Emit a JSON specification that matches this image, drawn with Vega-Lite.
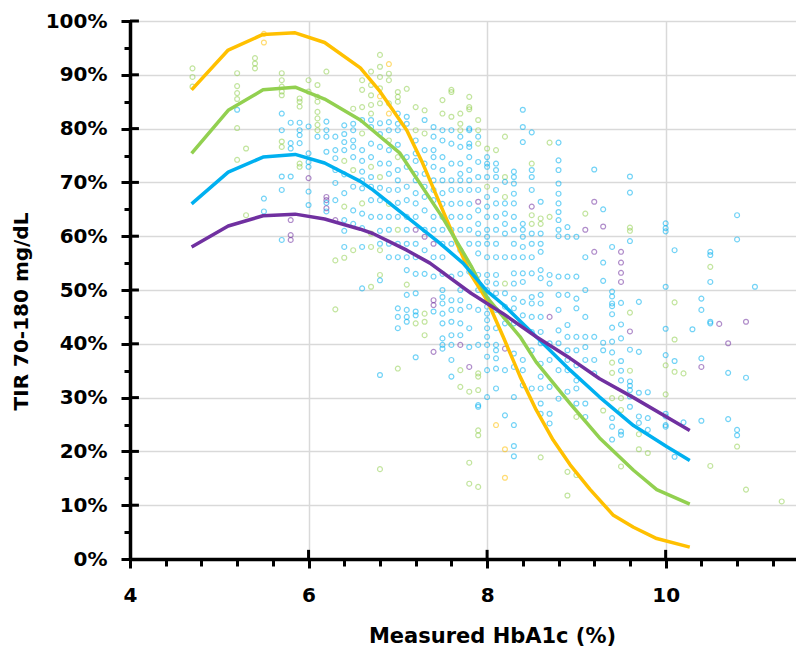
{
"$schema": "https://vega.github.io/schema/vega-lite/v6.json",
"width": 666, "height": 538,
"autosize": {"type": "none"},
"padding": {"left": 130, "top": 21, "right": 0, "bottom": 91},
"background": "white",
"config": {"view": {"stroke": null}, "font": "DejaVu Sans"},
"datasets": {
"pts": [
{"x":4.7,"y":91.2,"c":"g"},{"x":4.7,"y":89.6,"c":"g"},{"x":4.7,"y":87.8,"c":"g"},
{"x":5.2,"y":90.3,"c":"g"},{"x":5.2,"y":87.9,"c":"g"},{"x":5.2,"y":86.6,"c":"g"},{"x":5.2,"y":85.5,"c":"g"},{"x":5.2,"y":83.5,"c":"b"},{"x":5.2,"y":80.1,"c":"g"},{"x":5.2,"y":74.2,"c":"g"},
{"x":5.3,"y":76.3,"c":"g"},{"x":5.3,"y":63.9,"c":"g"},
{"x":5.4,"y":93.1,"c":"g"},{"x":5.4,"y":92.1,"c":"g"},{"x":5.4,"y":91.2,"c":"g"},
{"x":5.5,"y":97.6,"c":"y"},{"x":5.5,"y":96.0,"c":"y"},{"x":5.5,"y":67.0,"c":"b"},{"x":5.5,"y":64.6,"c":"b"},
{"x":5.7,"y":90.3,"c":"g"},{"x":5.7,"y":89.0,"c":"g"},{"x":5.7,"y":87.8,"c":"g"},{"x":5.7,"y":86.9,"c":"g"},{"x":5.7,"y":86.2,"c":"g"},{"x":5.7,"y":82.8,"c":"b"},{"x":5.7,"y":79.7,"c":"b"},{"x":5.7,"y":77.6,"c":"g"},{"x":5.7,"y":76.6,"c":"g"},{"x":5.7,"y":71.1,"c":"b"},{"x":5.7,"y":68.6,"c":"b"},{"x":5.7,"y":59.3,"c":"b"},
{"x":5.8,"y":81.1,"c":"b"},{"x":5.8,"y":77.3,"c":"b"},{"x":5.8,"y":76.3,"c":"b"},{"x":5.8,"y":71.1,"c":"b"},{"x":5.8,"y":63.0,"c":"p"},{"x":5.8,"y":60.2,"c":"p"},{"x":5.8,"y":59.3,"c":"p"},
{"x":5.9,"y":85.6,"c":"g"},{"x":5.9,"y":85.0,"c":"g"},{"x":5.9,"y":84.1,"c":"g"},{"x":5.9,"y":81.1,"c":"b"},{"x":5.9,"y":79.7,"c":"b"},{"x":5.9,"y":78.8,"c":"b"},{"x":5.9,"y":77.3,"c":"b"},{"x":5.9,"y":73.5,"c":"g"},{"x":5.9,"y":72.9,"c":"g"},
{"x":6.0,"y":89.0,"c":"g"},{"x":6.0,"y":86.9,"c":"g"},{"x":6.0,"y":80.4,"c":"b"},{"x":6.0,"y":75.4,"c":"b"},{"x":6.0,"y":73.8,"c":"b"},{"x":6.0,"y":72.9,"c":"b"},{"x":6.0,"y":70.8,"c":"p"},{"x":6.0,"y":68.3,"c":"b"},{"x":6.0,"y":65.8,"c":"b"},
{"x":6.1,"y":88.1,"c":"g"},{"x":6.1,"y":85.9,"c":"g"},{"x":6.1,"y":85.0,"c":"g"},{"x":6.1,"y":83.1,"c":"g"},{"x":6.1,"y":81.9,"c":"g"},{"x":6.1,"y":80.7,"c":"g"},{"x":6.1,"y":79.7,"c":"g"},{"x":6.1,"y":78.5,"c":"b"},
{"x":6.2,"y":90.6,"c":"g"},{"x":6.2,"y":81.3,"c":"b"},{"x":6.2,"y":79.7,"c":"b"},{"x":6.2,"y":78.5,"c":"b"},{"x":6.2,"y":75.7,"c":"b"},{"x":6.2,"y":67.3,"c":"p"},{"x":6.2,"y":66.7,"c":"p"},{"x":6.2,"y":66.2,"c":"b"},{"x":6.2,"y":65.2,"c":"p"},{"x":6.2,"y":64.6,"c":"b"},
{"x":6.3,"y":78.5,"c":"b"},{"x":6.3,"y":76.0,"c":"b"},{"x":6.3,"y":74.5,"c":"b"},{"x":6.3,"y":72.3,"c":"b"},{"x":6.3,"y":69.9,"c":"b"},{"x":6.3,"y":66.7,"c":"b"},{"x":6.3,"y":63.0,"c":"p"},{"x":6.3,"y":55.5,"c":"g"},{"x":6.3,"y":46.4,"c":"g"},
{"x":6.4,"y":80.6,"c":"b"},{"x":6.4,"y":79.0,"c":"b"},{"x":6.4,"y":77.5,"c":"b"},{"x":6.4,"y":76.0,"c":"b"},{"x":6.4,"y":74.0,"c":"g"},{"x":6.4,"y":71.5,"c":"b"},{"x":6.4,"y":68.0,"c":"b"},{"x":6.4,"y":65.5,"c":"g"},{"x":6.4,"y":63.0,"c":"b"},{"x":6.4,"y":61.0,"c":"b"},{"x":6.4,"y":58.0,"c":"b"},{"x":6.4,"y":56.0,"c":"g"},
{"x":6.5,"y":83.7,"c":"g"},{"x":6.5,"y":80.9,"c":"b"},{"x":6.5,"y":79.7,"c":"b"},{"x":6.5,"y":77.8,"c":"b"},{"x":6.5,"y":76.6,"c":"b"},{"x":6.5,"y":74.7,"c":"b"},{"x":6.5,"y":72.3,"c":"g"},{"x":6.5,"y":69.2,"c":"b"},{"x":6.5,"y":64.8,"c":"b"},{"x":6.5,"y":62.3,"c":"b"},{"x":6.5,"y":57.4,"c":"g"},
{"x":6.6,"y":89.0,"c":"g"},{"x":6.6,"y":87.2,"c":"g"},{"x":6.6,"y":84.0,"c":"g"},{"x":6.6,"y":81.6,"c":"b"},{"x":6.6,"y":79.1,"c":"g"},{"x":6.6,"y":76.0,"c":"b"},{"x":6.6,"y":74.0,"c":"b"},{"x":6.6,"y":72.0,"c":"b"},{"x":6.6,"y":70.4,"c":"b"},{"x":6.6,"y":68.9,"c":"b"},{"x":6.6,"y":66.1,"c":"g"},{"x":6.6,"y":64.2,"c":"b"},{"x":6.6,"y":61.5,"c":"b"},{"x":6.6,"y":58.0,"c":"b"},{"x":6.6,"y":50.3,"c":"b"},
{"x":6.7,"y":90.6,"c":"g"},{"x":6.7,"y":88.1,"c":"g"},{"x":6.7,"y":86.2,"c":"g"},{"x":6.7,"y":84.4,"c":"g"},{"x":6.7,"y":82.8,"c":"g"},{"x":6.7,"y":81.6,"c":"b"},{"x":6.7,"y":80.3,"c":"b"},{"x":6.7,"y":77.2,"c":"b"},{"x":6.7,"y":74.7,"c":"b"},{"x":6.7,"y":72.9,"c":"g"},{"x":6.7,"y":71.0,"c":"b"},{"x":6.7,"y":69.2,"c":"b"},{"x":6.7,"y":66.7,"c":"b"},{"x":6.7,"y":63.6,"c":"b"},{"x":6.7,"y":60.5,"c":"g"},{"x":6.7,"y":58.0,"c":"g"},{"x":6.7,"y":50.6,"c":"g"},
{"x":6.8,"y":93.7,"c":"g"},{"x":6.8,"y":91.5,"c":"g"},{"x":6.8,"y":89.6,"c":"g"},{"x":6.8,"y":87.5,"c":"g"},{"x":6.8,"y":86.0,"c":"y"},{"x":6.8,"y":84.7,"c":"g"},{"x":6.8,"y":81.0,"c":"b"},{"x":6.8,"y":79.0,"c":"b"},{"x":6.8,"y":76.6,"c":"b"},{"x":6.8,"y":73.5,"c":"b"},{"x":6.8,"y":71.0,"c":"g"},{"x":6.8,"y":69.0,"c":"b"},{"x":6.8,"y":66.7,"c":"b"},{"x":6.8,"y":63.6,"c":"b"},{"x":6.8,"y":61.0,"c":"b"},{"x":6.8,"y":58.6,"c":"b"},{"x":6.8,"y":57.4,"c":"g"},{"x":6.8,"y":52.8,"c":"g"},{"x":6.8,"y":51.8,"c":"b"},{"x":6.8,"y":34.2,"c":"b"},{"x":6.8,"y":16.7,"c":"g"},
{"x":6.9,"y":92.0,"c":"y"},{"x":6.9,"y":90.2,"c":"g"},{"x":6.9,"y":89.0,"c":"g"},{"x":6.9,"y":84.7,"c":"g"},{"x":6.9,"y":82.8,"c":"y"},{"x":6.9,"y":81.2,"c":"b"},{"x":6.9,"y":79.7,"c":"b"},{"x":6.9,"y":77.8,"c":"g"},{"x":6.9,"y":76.0,"c":"b"},{"x":6.9,"y":73.5,"c":"b"},{"x":6.9,"y":71.6,"c":"b"},{"x":6.9,"y":68.6,"c":"b"},{"x":6.9,"y":66.0,"c":"g"},{"x":6.9,"y":63.6,"c":"b"},{"x":6.9,"y":61.2,"c":"b"},{"x":6.9,"y":58.6,"c":"b"},{"x":6.9,"y":56.1,"c":"b"},
{"x":7.0,"y":86.8,"c":"g"},{"x":7.0,"y":85.9,"c":"g"},{"x":7.0,"y":85.0,"c":"g"},{"x":7.0,"y":82.8,"c":"b"},{"x":7.0,"y":80.9,"c":"b"},{"x":7.0,"y":79.7,"c":"b"},{"x":7.0,"y":77.0,"c":"b"},{"x":7.0,"y":74.7,"c":"g"},{"x":7.0,"y":72.3,"c":"b"},{"x":7.0,"y":70.4,"c":"b"},{"x":7.0,"y":68.6,"c":"b"},{"x":7.0,"y":66.2,"c":"b"},{"x":7.0,"y":63.6,"c":"b"},{"x":7.0,"y":61.2,"c":"g"},{"x":7.0,"y":58.6,"c":"b"},{"x":7.0,"y":56.1,"c":"b"},{"x":7.0,"y":46.6,"c":"b"},{"x":7.0,"y":45.0,"c":"b"},{"x":7.0,"y":42.9,"c":"b"},{"x":7.0,"y":35.4,"c":"g"},
{"x":7.1,"y":87.4,"c":"g"},{"x":7.1,"y":82.2,"c":"b"},{"x":7.1,"y":80.9,"c":"b"},{"x":7.1,"y":74.7,"c":"b"},{"x":7.1,"y":72.9,"c":"b"},{"x":7.1,"y":69.2,"c":"b"},{"x":7.1,"y":66.7,"c":"b"},{"x":7.1,"y":63.6,"c":"b"},{"x":7.1,"y":61.2,"c":"b"},{"x":7.1,"y":58.6,"c":"b"},{"x":7.1,"y":56.1,"c":"b"},{"x":7.1,"y":53.7,"c":"b"},{"x":7.1,"y":51.0,"c":"g"},{"x":7.1,"y":49.1,"c":"b"},{"x":7.1,"y":46.3,"c":"b"},{"x":7.1,"y":45.0,"c":"b"},{"x":7.1,"y":44.1,"c":"b"},
{"x":7.2,"y":84.0,"c":"g"},{"x":7.2,"y":79.7,"c":"g"},{"x":7.2,"y":77.8,"c":"b"},{"x":7.2,"y":75.4,"c":"b"},{"x":7.2,"y":74.0,"c":"b"},{"x":7.2,"y":71.6,"c":"b"},{"x":7.2,"y":70.4,"c":"b"},{"x":7.2,"y":68.0,"c":"b"},{"x":7.2,"y":66.1,"c":"b"},{"x":7.2,"y":63.6,"c":"b"},{"x":7.2,"y":61.2,"c":"p"},{"x":7.2,"y":58.6,"c":"b"},{"x":7.2,"y":56.1,"c":"b"},{"x":7.2,"y":53.0,"c":"b"},{"x":7.2,"y":49.4,"c":"b"},{"x":7.2,"y":46.0,"c":"b"},{"x":7.2,"y":45.3,"c":"b"},{"x":7.2,"y":43.8,"c":"g"},{"x":7.2,"y":37.5,"c":"b"},
{"x":7.3,"y":83.4,"c":"g"},{"x":7.3,"y":81.6,"c":"b"},{"x":7.3,"y":79.1,"c":"g"},{"x":7.3,"y":76.0,"c":"b"},{"x":7.3,"y":73.5,"c":"b"},{"x":7.3,"y":71.6,"c":"b"},{"x":7.3,"y":69.2,"c":"b"},{"x":7.3,"y":67.3,"c":"b"},{"x":7.3,"y":64.8,"c":"b"},{"x":7.3,"y":61.2,"c":"b"},{"x":7.3,"y":59.9,"c":"p"},{"x":7.3,"y":57.4,"c":"b"},{"x":7.3,"y":53.0,"c":"b"},{"x":7.3,"y":45.6,"c":"g"},{"x":7.3,"y":44.1,"c":"g"},{"x":7.3,"y":41.6,"c":"g"},
{"x":7.4,"y":80.3,"c":"b"},{"x":7.4,"y":78.5,"c":"b"},{"x":7.4,"y":76.0,"c":"b"},{"x":7.4,"y":74.7,"c":"b"},{"x":7.4,"y":72.9,"c":"b"},{"x":7.4,"y":70.4,"c":"b"},{"x":7.4,"y":68.6,"c":"b"},{"x":7.4,"y":66.7,"c":"b"},{"x":7.4,"y":63.6,"c":"b"},{"x":7.4,"y":61.2,"c":"b"},{"x":7.4,"y":58.6,"c":"p"},{"x":7.4,"y":56.1,"c":"b"},{"x":7.4,"y":52.5,"c":"b"},{"x":7.4,"y":48.1,"c":"p"},{"x":7.4,"y":47.2,"c":"p"},{"x":7.4,"y":46.0,"c":"b"},{"x":7.4,"y":38.5,"c":"p"},
{"x":7.5,"y":85.3,"c":"g"},{"x":7.5,"y":82.8,"c":"g"},{"x":7.5,"y":79.7,"c":"b"},{"x":7.5,"y":77.8,"c":"b"},{"x":7.5,"y":74.7,"c":"b"},{"x":7.5,"y":72.3,"c":"b"},{"x":7.5,"y":70.4,"c":"b"},{"x":7.5,"y":68.0,"c":"b"},{"x":7.5,"y":66.0,"c":"b"},{"x":7.5,"y":63.6,"c":"b"},{"x":7.5,"y":61.2,"c":"b"},{"x":7.5,"y":58.6,"c":"b"},{"x":7.5,"y":56.1,"c":"b"},{"x":7.5,"y":53.0,"c":"b"},{"x":7.5,"y":50.0,"c":"b"},{"x":7.5,"y":48.7,"c":"b"},{"x":7.5,"y":47.5,"c":"b"},{"x":7.5,"y":45.6,"c":"b"},{"x":7.5,"y":43.8,"c":"b"},{"x":7.5,"y":41.0,"c":"b"},{"x":7.5,"y":39.8,"c":"b"},{"x":7.5,"y":39.1,"c":"b"},
{"x":7.6,"y":87.2,"c":"g"},{"x":7.6,"y":86.8,"c":"g"},{"x":7.6,"y":82.2,"c":"g"},{"x":7.6,"y":79.7,"c":"b"},{"x":7.6,"y":77.2,"c":"b"},{"x":7.6,"y":73.5,"c":"b"},{"x":7.6,"y":70.4,"c":"b"},{"x":7.6,"y":68.6,"c":"b"},{"x":7.6,"y":66.0,"c":"b"},{"x":7.6,"y":63.6,"c":"b"},{"x":7.6,"y":61.2,"c":"b"},{"x":7.6,"y":58.6,"c":"b"},{"x":7.6,"y":52.5,"c":"b"},{"x":7.6,"y":48.1,"c":"b"},{"x":7.6,"y":46.3,"c":"b"},{"x":7.6,"y":44.1,"c":"b"},{"x":7.6,"y":41.6,"c":"b"},{"x":7.6,"y":39.8,"c":"b"},{"x":7.6,"y":37.0,"c":"b"},{"x":7.6,"y":33.9,"c":"b"},
{"x":7.7,"y":82.8,"c":"g"},{"x":7.7,"y":80.9,"c":"g"},{"x":7.7,"y":79.7,"c":"g"},{"x":7.7,"y":78.5,"c":"b"},{"x":7.7,"y":76.6,"c":"b"},{"x":7.7,"y":73.5,"c":"b"},{"x":7.7,"y":71.6,"c":"b"},{"x":7.7,"y":70.4,"c":"b"},{"x":7.7,"y":68.6,"c":"b"},{"x":7.7,"y":66.1,"c":"b"},{"x":7.7,"y":63.6,"c":"b"},{"x":7.7,"y":61.2,"c":"b"},{"x":7.7,"y":57.4,"c":"b"},{"x":7.7,"y":53.0,"c":"b"},{"x":7.7,"y":50.0,"c":"b"},{"x":7.7,"y":48.1,"c":"b"},{"x":7.7,"y":46.3,"c":"b"},{"x":7.7,"y":43.8,"c":"b"},{"x":7.7,"y":41.6,"c":"b"},{"x":7.7,"y":39.8,"c":"p"},{"x":7.7,"y":35.1,"c":"g"},{"x":7.7,"y":32.0,"c":"g"},
{"x":7.8,"y":85.9,"c":"g"},{"x":7.8,"y":84.0,"c":"g"},{"x":7.8,"y":83.6,"c":"g"},{"x":7.8,"y":80.0,"c":"b"},{"x":7.8,"y":79.7,"c":"b"},{"x":7.8,"y":77.2,"c":"b"},{"x":7.8,"y":76.6,"c":"b"},{"x":7.8,"y":74.7,"c":"b"},{"x":7.8,"y":72.3,"c":"b"},{"x":7.8,"y":70.4,"c":"b"},{"x":7.8,"y":68.6,"c":"b"},{"x":7.8,"y":66.0,"c":"b"},{"x":7.8,"y":63.6,"c":"b"},{"x":7.8,"y":61.2,"c":"b"},{"x":7.8,"y":58.6,"c":"b"},{"x":7.8,"y":53.4,"c":"b"},{"x":7.8,"y":46.9,"c":"b"},{"x":7.8,"y":42.9,"c":"b"},{"x":7.8,"y":39.4,"c":"b"},{"x":7.8,"y":35.7,"c":"p"},{"x":7.8,"y":31.1,"c":"g"},{"x":7.8,"y":17.9,"c":"g"},{"x":7.8,"y":14.0,"c":"g"},
{"x":7.9,"y":81.6,"c":"g"},{"x":7.9,"y":79.7,"c":"g"},{"x":7.9,"y":78.5,"c":"b"},{"x":7.9,"y":77.2,"c":"g"},{"x":7.9,"y":73.8,"c":"b"},{"x":7.9,"y":71.0,"c":"b"},{"x":7.9,"y":68.6,"c":"b"},{"x":7.9,"y":66.4,"c":"p"},{"x":7.9,"y":64.8,"c":"b"},{"x":7.9,"y":62.3,"c":"b"},{"x":7.9,"y":60.5,"c":"b"},{"x":7.9,"y":58.6,"c":"b"},{"x":7.9,"y":56.8,"c":"b"},{"x":7.9,"y":52.8,"c":"b"},{"x":7.9,"y":50.0,"c":"b"},{"x":7.9,"y":46.3,"c":"b"},{"x":7.9,"y":39.8,"c":"b"},{"x":7.9,"y":34.5,"c":"g"},{"x":7.9,"y":33.9,"c":"g"},{"x":7.9,"y":31.4,"c":"g"},{"x":7.9,"y":28.6,"c":"b"},{"x":7.9,"y":28.3,"c":"b"},{"x":7.9,"y":23.9,"c":"g"},{"x":7.9,"y":23.0,"c":"g"},{"x":7.9,"y":13.4,"c":"g"},
{"x":8.0,"y":76.3,"c":"g"},{"x":8.0,"y":74.7,"c":"b"},{"x":8.0,"y":73.5,"c":"b"},{"x":8.0,"y":72.9,"c":"b"},{"x":8.0,"y":71.0,"c":"b"},{"x":8.0,"y":69.2,"c":"g"},{"x":8.0,"y":67.3,"c":"b"},{"x":8.0,"y":65.5,"c":"b"},{"x":8.0,"y":63.6,"c":"b"},{"x":8.0,"y":61.2,"c":"b"},{"x":8.0,"y":59.9,"c":"b"},{"x":8.0,"y":58.6,"c":"b"},{"x":8.0,"y":56.1,"c":"b"},{"x":8.0,"y":52.8,"c":"b"},{"x":8.0,"y":51.5,"c":"b"},{"x":8.0,"y":50.0,"c":"b"},{"x":8.0,"y":48.4,"c":"b"},{"x":8.0,"y":46.9,"c":"b"},{"x":8.0,"y":45.6,"c":"b"},{"x":8.0,"y":44.4,"c":"b"},{"x":8.0,"y":42.9,"c":"b"},{"x":8.0,"y":41.3,"c":"b"},{"x":8.0,"y":39.8,"c":"b"},{"x":8.0,"y":37.6,"c":"b"},{"x":8.0,"y":35.1,"c":"b"},{"x":8.0,"y":30.1,"c":"b"},
{"x":8.1,"y":76.0,"c":"g"},{"x":8.1,"y":73.5,"c":"b"},{"x":8.1,"y":72.3,"c":"b"},{"x":8.1,"y":71.0,"c":"b"},{"x":8.1,"y":68.6,"c":"b"},{"x":8.1,"y":66.1,"c":"b"},{"x":8.1,"y":63.6,"c":"b"},{"x":8.1,"y":61.2,"c":"b"},{"x":8.1,"y":58.6,"c":"b"},{"x":8.1,"y":56.1,"c":"b"},{"x":8.1,"y":52.8,"c":"b"},{"x":8.1,"y":51.2,"c":"b"},{"x":8.1,"y":49.4,"c":"b"},{"x":8.1,"y":46.3,"c":"b"},{"x":8.1,"y":42.9,"c":"b"},{"x":8.1,"y":39.8,"c":"b"},{"x":8.1,"y":38.8,"c":"b"},{"x":8.1,"y":37.3,"c":"b"},{"x":8.1,"y":35.4,"c":"b"},{"x":8.1,"y":31.7,"c":"b"},{"x":8.1,"y":24.9,"c":"y"},
{"x":8.2,"y":78.5,"c":"g"},{"x":8.2,"y":71.0,"c":"g"},{"x":8.2,"y":70.1,"c":"b"},{"x":8.2,"y":67.3,"c":"g"},{"x":8.2,"y":66.1,"c":"b"},{"x":8.2,"y":64.2,"c":"b"},{"x":8.2,"y":62.3,"c":"b"},{"x":8.2,"y":60.5,"c":"b"},{"x":8.2,"y":56.1,"c":"b"},{"x":8.2,"y":51.2,"c":"g"},{"x":8.2,"y":49.4,"c":"b"},{"x":8.2,"y":46.9,"c":"b"},{"x":8.2,"y":45.0,"c":"g"},{"x":8.2,"y":43.8,"c":"b"},{"x":8.2,"y":39.1,"c":"p"},{"x":8.2,"y":35.1,"c":"b"},{"x":8.2,"y":26.7,"c":"b"},{"x":8.2,"y":20.4,"c":"y"},{"x":8.2,"y":15.1,"c":"y"},
{"x":8.3,"y":72.0,"c":"b"},{"x":8.3,"y":71.0,"c":"b"},{"x":8.3,"y":69.8,"c":"b"},{"x":8.3,"y":67.9,"c":"b"},{"x":8.3,"y":66.1,"c":"b"},{"x":8.3,"y":63.6,"c":"b"},{"x":8.3,"y":61.2,"c":"b"},{"x":8.3,"y":58.6,"c":"b"},{"x":8.3,"y":56.1,"c":"b"},{"x":8.3,"y":53.1,"c":"b"},{"x":8.3,"y":51.2,"c":"b"},{"x":8.3,"y":48.4,"c":"b"},{"x":8.3,"y":46.6,"c":"b"},{"x":8.3,"y":43.8,"c":"b"},{"x":8.3,"y":38.2,"c":"b"},{"x":8.3,"y":35.7,"c":"b"},{"x":8.3,"y":30.1,"c":"b"},{"x":8.3,"y":24.9,"c":"b"},{"x":8.3,"y":21.0,"c":"b"},{"x":8.3,"y":19.1,"c":"b"},
{"x":8.4,"y":83.5,"c":"b"},{"x":8.4,"y":80.3,"c":"b"},{"x":8.4,"y":77.5,"c":"b"},{"x":8.4,"y":62.3,"c":"b"},{"x":8.4,"y":61.2,"c":"b"},{"x":8.4,"y":59.9,"c":"b"},{"x":8.4,"y":58.0,"c":"b"},{"x":8.4,"y":56.1,"c":"b"},{"x":8.4,"y":53.1,"c":"b"},{"x":8.4,"y":51.5,"c":"b"},{"x":8.4,"y":47.8,"c":"b"},{"x":8.4,"y":45.3,"c":"b"},{"x":8.4,"y":37.0,"c":"b"},{"x":8.4,"y":35.1,"c":"b"},{"x":8.4,"y":32.3,"c":"b"},
{"x":8.5,"y":79.3,"c":"b"},{"x":8.5,"y":73.5,"c":"g"},{"x":8.5,"y":72.3,"c":"b"},{"x":8.5,"y":71.0,"c":"b"},{"x":8.5,"y":68.6,"c":"b"},{"x":8.5,"y":65.5,"c":"p"},{"x":8.5,"y":63.9,"c":"g"},{"x":8.5,"y":62.3,"c":"g"},{"x":8.5,"y":60.5,"c":"b"},{"x":8.5,"y":58.6,"c":"b"},{"x":8.5,"y":56.1,"c":"b"},{"x":8.5,"y":53.1,"c":"b"},{"x":8.5,"y":48.7,"c":"b"},{"x":8.5,"y":47.5,"c":"b"},{"x":8.5,"y":45.0,"c":"b"},{"x":8.5,"y":42.2,"c":"b"},{"x":8.5,"y":38.8,"c":"b"},{"x":8.5,"y":31.7,"c":"b"},
{"x":8.6,"y":66.4,"c":"b"},{"x":8.6,"y":63.3,"c":"g"},{"x":8.6,"y":62.3,"c":"g"},{"x":8.6,"y":60.5,"c":"b"},{"x":8.6,"y":58.6,"c":"b"},{"x":8.6,"y":57.1,"c":"b"},{"x":8.6,"y":53.7,"c":"b"},{"x":8.6,"y":52.2,"c":"b"},{"x":8.6,"y":49.1,"c":"b"},{"x":8.6,"y":47.5,"c":"b"},{"x":8.6,"y":45.0,"c":"b"},{"x":8.6,"y":42.2,"c":"b"},{"x":8.6,"y":40.1,"c":"b"},{"x":8.6,"y":36.3,"c":"b"},{"x":8.6,"y":33.9,"c":"b"},{"x":8.6,"y":31.7,"c":"b"},{"x":8.6,"y":28.9,"c":"b"},{"x":8.6,"y":27.0,"c":"b"},{"x":8.6,"y":18.9,"c":"g"},
{"x":8.7,"y":77.4,"c":"g"},{"x":8.7,"y":63.6,"c":"g"},{"x":8.7,"y":52.8,"c":"b"},{"x":8.7,"y":51.2,"c":"b"},{"x":8.7,"y":45.0,"c":"p"},{"x":8.7,"y":40.1,"c":"b"},{"x":8.7,"y":37.0,"c":"b"},{"x":8.7,"y":32.0,"c":"b"},{"x":8.7,"y":27.0,"c":"b"},{"x":8.7,"y":25.2,"c":"b"},
{"x":8.8,"y":77.4,"c":"b"},{"x":8.8,"y":74.1,"c":"b"},{"x":8.8,"y":72.3,"c":"b"},{"x":8.8,"y":69.8,"c":"b"},{"x":8.8,"y":67.9,"c":"b"},{"x":8.8,"y":66.1,"c":"b"},{"x":8.8,"y":64.5,"c":"b"},{"x":8.8,"y":63.0,"c":"b"},{"x":8.8,"y":61.2,"c":"b"},{"x":8.8,"y":60.0,"c":"b"},{"x":8.8,"y":52.5,"c":"b"},{"x":8.8,"y":49.1,"c":"b"},{"x":8.8,"y":46.3,"c":"b"},{"x":8.8,"y":42.5,"c":"b"},{"x":8.8,"y":40.1,"c":"b"},{"x":8.8,"y":35.1,"c":"b"},{"x":8.8,"y":29.8,"c":"b"},
{"x":8.9,"y":61.7,"c":"b"},{"x":8.9,"y":59.9,"c":"b"},{"x":8.9,"y":52.5,"c":"b"},{"x":8.9,"y":49.1,"c":"b"},{"x":8.9,"y":43.5,"c":"b"},{"x":8.9,"y":41.3,"c":"b"},{"x":8.9,"y":38.8,"c":"b"},{"x":8.9,"y":37.0,"c":"b"},{"x":8.9,"y":35.1,"c":"b"},{"x":8.9,"y":31.1,"c":"b"},{"x":8.9,"y":16.2,"c":"g"},{"x":8.9,"y":11.8,"c":"g"},
{"x":9.0,"y":59.9,"c":"b"},{"x":9.0,"y":52.5,"c":"b"},{"x":9.0,"y":48.4,"c":"b"},{"x":9.0,"y":46.6,"c":"b"},{"x":9.0,"y":41.3,"c":"b"},{"x":9.0,"y":38.8,"c":"b"},{"x":9.0,"y":36.0,"c":"b"},{"x":9.0,"y":33.2,"c":"b"},{"x":9.0,"y":31.7,"c":"b"},{"x":9.0,"y":28.9,"c":"b"},{"x":9.0,"y":26.4,"c":"g"},{"x":9.0,"y":15.6,"c":"g"},
{"x":9.1,"y":64.2,"c":"g"},{"x":9.1,"y":61.2,"c":"p"},{"x":9.1,"y":56.1,"c":"b"},{"x":9.1,"y":50.0,"c":"b"},{"x":9.1,"y":45.0,"c":"b"},{"x":9.1,"y":41.3,"c":"b"},{"x":9.1,"y":39.4,"c":"b"},{"x":9.1,"y":37.0,"c":"b"},{"x":9.1,"y":28.9,"c":"b"},{"x":9.1,"y":26.4,"c":"b"},
{"x":9.2,"y":72.4,"c":"b"},{"x":9.2,"y":66.4,"c":"p"},{"x":9.2,"y":57.1,"c":"p"},{"x":9.2,"y":41.3,"c":"b"},{"x":9.2,"y":37.0,"c":"b"},{"x":9.2,"y":34.5,"c":"b"},
{"x":9.3,"y":65.0,"c":"b"},{"x":9.3,"y":61.8,"c":"p"},{"x":9.3,"y":55.1,"c":"b"},{"x":9.3,"y":51.7,"c":"b"},{"x":9.3,"y":40.2,"c":"b"},{"x":9.3,"y":38.8,"c":"b"},{"x":9.3,"y":27.6,"c":"g"},
{"x":9.4,"y":58.0,"c":"b"},{"x":9.4,"y":49.7,"c":"b"},{"x":9.4,"y":48.8,"c":"b"},{"x":9.4,"y":47.5,"c":"b"},{"x":9.4,"y":47.0,"c":"b"},{"x":9.4,"y":45.5,"c":"b"},{"x":9.4,"y":43.0,"c":"b"},{"x":9.4,"y":40.4,"c":"b"},{"x":9.4,"y":38.4,"c":"b"},{"x":9.4,"y":36.5,"c":"g"},{"x":9.4,"y":34.6,"c":"g"},{"x":9.4,"y":29.9,"c":"g"},{"x":9.4,"y":26.2,"c":"b"},{"x":9.4,"y":24.6,"c":"b"},{"x":9.4,"y":22.2,"c":"b"},
{"x":9.5,"y":57.1,"c":"p"},{"x":9.5,"y":55.1,"c":"p"},{"x":9.5,"y":53.2,"c":"p"},{"x":9.5,"y":51.5,"c":"p"},{"x":9.5,"y":47.6,"c":"b"},{"x":9.5,"y":43.6,"c":"b"},{"x":9.5,"y":41.0,"c":"b"},{"x":9.5,"y":36.8,"c":"b"},{"x":9.5,"y":35.0,"c":"b"},{"x":9.5,"y":33.2,"c":"b"},{"x":9.5,"y":29.9,"c":"g"},{"x":9.5,"y":27.7,"c":"g"},{"x":9.5,"y":23.7,"c":"b"},{"x":9.5,"y":23.1,"c":"b"},{"x":9.5,"y":17.2,"c":"g"},
{"x":9.6,"y":71.1,"c":"b"},{"x":9.6,"y":68.1,"c":"b"},{"x":9.6,"y":61.6,"c":"g"},{"x":9.6,"y":61.0,"c":"g"},{"x":9.6,"y":59.1,"c":"b"},{"x":9.6,"y":45.8,"c":"g"},{"x":9.6,"y":42.3,"c":"p"},{"x":9.6,"y":38.9,"c":"b"},{"x":9.6,"y":35.0,"c":"g"},{"x":9.6,"y":33.0,"c":"b"},{"x":9.6,"y":32.2,"c":"b"},{"x":9.6,"y":31.4,"c":"b"},{"x":9.6,"y":30.2,"c":"b"},{"x":9.6,"y":28.3,"c":"b"},
{"x":9.7,"y":47.8,"c":"b"},{"x":9.7,"y":38.5,"c":"b"},{"x":9.7,"y":30.9,"c":"b"},{"x":9.7,"y":26.5,"c":"b"},{"x":9.7,"y":25.3,"c":"b"},{"x":9.7,"y":23.2,"c":"g"},{"x":9.7,"y":20.4,"c":"g"},
{"x":9.8,"y":31.0,"c":"b"},{"x":9.8,"y":26.2,"c":"b"},{"x":9.8,"y":24.0,"c":"b"},{"x":9.8,"y":19.7,"c":"g"},
{"x":10.0,"y":62.4,"c":"b"},{"x":10.0,"y":61.5,"c":"b"},{"x":10.0,"y":60.9,"c":"b"},{"x":10.0,"y":50.6,"c":"b"},{"x":10.0,"y":42.8,"c":"b"},{"x":10.0,"y":37.9,"c":"b"},{"x":10.0,"y":36.0,"c":"g"},{"x":10.0,"y":30.6,"c":"g"},{"x":10.0,"y":27.0,"c":"b"},{"x":10.0,"y":26.5,"c":"b"},{"x":10.0,"y":24.9,"c":"b"},{"x":10.0,"y":24.6,"c":"b"},
{"x":10.1,"y":57.4,"c":"b"},{"x":10.1,"y":47.7,"c":"g"},{"x":10.1,"y":40.8,"c":"g"},{"x":10.1,"y":36.8,"c":"b"},{"x":10.1,"y":34.8,"c":"g"},{"x":10.1,"y":19.0,"c":"b"},
{"x":10.2,"y":34.5,"c":"g"},{"x":10.2,"y":25.4,"c":"b"},
{"x":10.3,"y":42.7,"c":"b"},
{"x":10.4,"y":48.4,"c":"b"},{"x":10.4,"y":46.3,"c":"b"},{"x":10.4,"y":37.3,"c":"b"},{"x":10.4,"y":35.7,"c":"p"},{"x":10.4,"y":25.7,"c":"b"},
{"x":10.5,"y":57.1,"c":"b"},{"x":10.5,"y":56.5,"c":"b"},{"x":10.5,"y":54.3,"c":"g"},{"x":10.5,"y":51.5,"c":"b"},{"x":10.5,"y":44.1,"c":"b"},{"x":10.5,"y":43.8,"c":"b"},{"x":10.5,"y":17.3,"c":"g"},
{"x":10.6,"y":43.7,"c":"p"},
{"x":10.7,"y":40.1,"c":"p"},{"x":10.7,"y":34.6,"c":"b"},{"x":10.7,"y":26.0,"c":"b"},
{"x":10.8,"y":63.9,"c":"b"},{"x":10.8,"y":59.4,"c":"b"},{"x":10.8,"y":24.0,"c":"b"},{"x":10.8,"y":23.0,"c":"b"},{"x":10.8,"y":20.9,"c":"g"},
{"x":10.9,"y":44.1,"c":"p"},{"x":10.9,"y":33.7,"c":"b"},{"x":10.9,"y":12.9,"c":"g"},
{"x":11.0,"y":50.6,"c":"b"},
{"x":11.3,"y":10.7,"c":"g"}
],
"lines": [
{"x":4.69,"y":87.2,"c":"y"},{"x":5.1,"y":94.6,"c":"y"},{"x":5.49,"y":97.5,"c":"y"},{"x":5.85,"y":97.8,"c":"y"},{"x":6.18,"y":96.0,"c":"y"},{"x":6.58,"y":91.3,"c":"y"},{"x":6.8,"y":86.9,"c":"y"},{"x":7.1,"y":79.7,"c":"y"},{"x":7.28,"y":73.5,"c":"y"},{"x":7.47,"y":66.1,"c":"y"},{"x":7.66,"y":58.7,"c":"y"},{"x":7.82,"y":52.8,"c":"y"},{"x":8.0,"y":48.1,"c":"y"},{"x":8.18,"y":41.3,"c":"y"},{"x":8.37,"y":33.9,"c":"y"},{"x":8.55,"y":27.7,"c":"y"},{"x":8.74,"y":22.1,"c":"y"},{"x":8.93,"y":17.5,"c":"y"},{"x":9.15,"y":13.0,"c":"y"},{"x":9.41,"y":8.2,"c":"y"},{"x":9.64,"y":5.9,"c":"y"},{"x":9.9,"y":3.8,"c":"y"},{"x":10.27,"y":2.2,"c":"y"},
{"x":4.69,"y":75.4,"c":"g"},{"x":5.1,"y":83.4,"c":"g"},{"x":5.49,"y":87.2,"c":"g"},{"x":5.85,"y":87.7,"c":"g"},{"x":6.18,"y":85.5,"c":"g"},{"x":6.58,"y":81.6,"c":"g"},{"x":7.02,"y":75.5,"c":"g"},{"x":7.5,"y":63.5,"c":"g"},{"x":7.82,"y":54.5,"c":"g"},{"x":8.0,"y":48.6,"c":"g"},{"x":8.37,"y":41.3,"c":"g"},{"x":8.55,"y":36.6,"c":"g"},{"x":8.93,"y":28.9,"c":"g"},{"x":9.26,"y":22.5,"c":"g"},{"x":9.64,"y":16.5,"c":"g"},{"x":9.9,"y":12.9,"c":"g"},{"x":10.27,"y":10.2,"c":"g"},
{"x":4.69,"y":66.0,"c":"b"},{"x":5.1,"y":71.9,"c":"b"},{"x":5.49,"y":74.7,"c":"b"},{"x":5.85,"y":75.2,"c":"b"},{"x":6.18,"y":73.6,"c":"b"},{"x":6.58,"y":70.2,"c":"b"},{"x":6.72,"y":68.6,"c":"b"},{"x":7.1,"y":63.6,"c":"b"},{"x":7.47,"y":58.7,"c":"b"},{"x":7.73,"y":55.0,"c":"b"},{"x":8.0,"y":49.8,"c":"b"},{"x":8.18,"y":47.3,"c":"b"},{"x":8.55,"y":41.3,"c":"b"},{"x":8.93,"y":35.1,"c":"b"},{"x":9.26,"y":30.1,"c":"b"},{"x":9.64,"y":24.8,"c":"b"},{"x":10.01,"y":20.9,"c":"b"},{"x":10.27,"y":18.3,"c":"b"},
{"x":4.69,"y":58.0,"c":"p"},{"x":5.1,"y":61.9,"c":"p"},{"x":5.49,"y":63.8,"c":"p"},{"x":5.85,"y":64.1,"c":"p"},{"x":6.18,"y":63.2,"c":"p"},{"x":6.58,"y":61.3,"c":"p"},{"x":6.72,"y":60.5,"c":"p"},{"x":7.1,"y":57.4,"c":"p"},{"x":7.36,"y":55.0,"c":"p"},{"x":7.82,"y":49.4,"c":"p"},{"x":8.18,"y":45.6,"c":"p"},{"x":8.55,"y":41.3,"c":"p"},{"x":8.93,"y":37.3,"c":"p"},{"x":9.26,"y":33.5,"c":"p"},{"x":9.64,"y":30.0,"c":"p"},{"x":10.27,"y":23.9,"c":"p"}
]
},
"layer": [
{
"data": {"name": "pts"},
"mark": {"type": "point", "shape": "circle", "filled": false, "size": 24, "strokeWidth": 1.2, "opacity": 0.55},
"encoding": {
"x": {"field": "x", "type": "quantitative",
 "scale": {"domain": [4, 11.46], "nice": false, "zero": false},
 "axis": {
  "values": [4,4.4,4.8,5.2,5.6,6,6.4,6.8,7.2,7.6,8,8.4,8.8,9.2,9.6,10,10.4,10.8,11.2],
  "tickCount": 100,
  "labelExpr": "abs(datum.value/2 - round(datum.value/2)) < 0.01 ? format(datum.value, 'd') : ''",
  "tickSize": {"condition": {"test": "abs(datum.value/2 - round(datum.value/2)) < 0.01", "value": 9}, "value": 7},
  "grid": true,
  "gridOpacity": {"condition": {"test": "abs(datum.value/2 - round(datum.value/2)) < 0.01", "value": 1}, "value": 0},
  "gridColor": "#d9d9d9", "gridWidth": 1.5,
  "domainColor": "black", "domainWidth": 3.5,
  "tickColor": "black", "tickWidth": 3,
  "labelFont": "DejaVu Sans", "labelFontWeight": "bold", "labelFontSize": 20, "labelColor": "black",
  "labelPadding": 17, "labelFlush": false, "labelOverlap": false,
  "title": "Measured HbA1c (%)", "titleFont": "DejaVu Sans", "titleFontSize": 21, "titleFontWeight": "bold", "titleColor": "black", "titlePadding": 20, "titleX": 362
 }},
"y": {"field": "y", "type": "quantitative",
 "scale": {"domain": [0, 100], "nice": false},
 "axis": {
  "values": [0,5,10,15,20,25,30,35,40,45,50,55,60,65,70,75,80,85,90,95,100],
  "tickCount": 100,
  "labelExpr": "datum.value % 10 == 0 ? datum.value + '%' : ''",
  "tickSize": {"condition": {"test": "datum.value % 10 == 0", "value": 9}, "value": 6},
  "grid": true,
  "gridOpacity": {"condition": {"test": "datum.value % 10 == 0", "value": 1}, "value": 0},
  "gridColor": "#d9d9d9", "gridWidth": 1.5,
  "domainColor": "black", "domainWidth": 3.5,
  "tickColor": "black", "tickWidth": 3,
  "labelFont": "DejaVu Sans", "labelFontWeight": "bold", "labelFontSize": 20, "labelColor": "black",
  "labelPadding": 14, "labelFlush": false, "labelOverlap": false,
  "title": "TIR 70-180 mg/dL", "titleFont": "DejaVu Sans", "titleFontSize": 20, "titleFontWeight": "bold", "titleColor": "black", "titlePadding": 14, "titleY": 290
 }},
"color": {"field": "c", "type": "nominal", "scale": {"domain": ["b","g","y","p"], "range": ["#00b0f0","#92d050","#ffc000","#7030a0"]}, "legend": null}
}
},
{
"data": {"values": [{"t": 6}, {"t": 8}, {"t": 10}]},
"mark": {"type": "rule", "color": "black", "strokeWidth": 3},
"encoding": {
"x": {"field": "t", "type": "quantitative"},
"y": {"datum": 0},
"y2": {"datum": 1.7}
}
},
{
"data": {"values": [{"v": 10}, {"v": 20}, {"v": 30}, {"v": 40}, {"v": 50}, {"v": 60}, {"v": 70}, {"v": 80}, {"v": 90}, {"v": 100}]},
"mark": {"type": "rule", "color": "black", "strokeWidth": 3},
"encoding": {
"y": {"field": "v", "type": "quantitative"},
"x": {"datum": 4},
"x2": {"datum": 4.1}
}
},
{
"data": {"name": "lines"},
"mark": {"type": "line", "strokeWidth": 3.5, "strokeJoin": "round"},
"encoding": {
"x": {"field": "x", "type": "quantitative"},
"y": {"field": "y", "type": "quantitative"},
"color": {"field": "c", "type": "nominal", "legend": null}
}
}
]
}
